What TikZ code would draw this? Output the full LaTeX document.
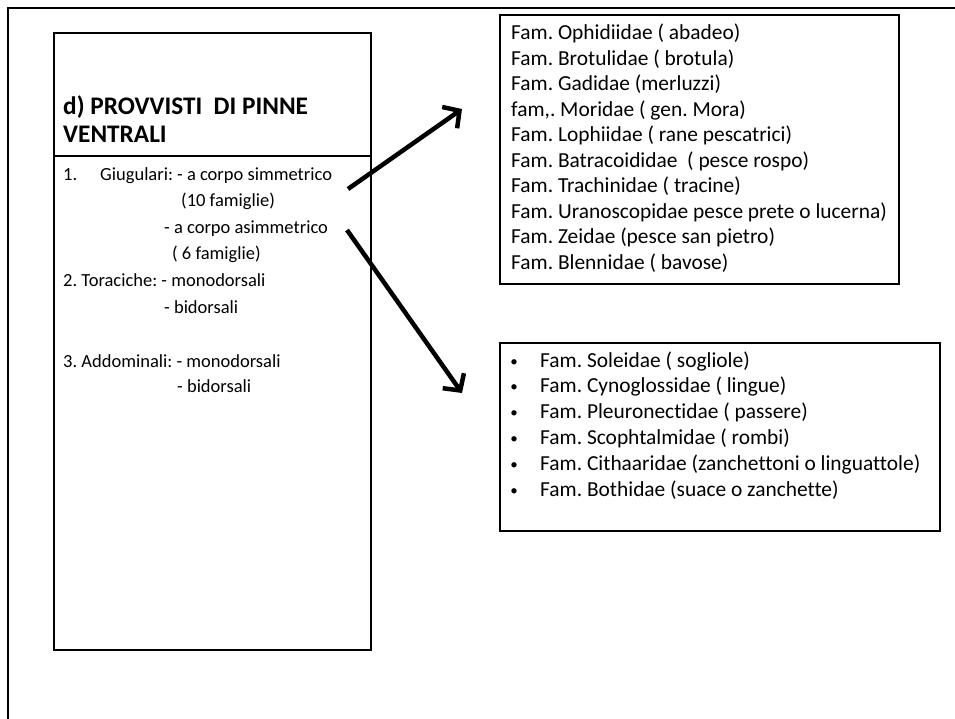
\documentclass[tikz,border=0pt]{standalone}
\usepackage{fontspec}
\setmainfont{Carlito}[Ligatures={NoCommon,NoContextual,NoRare}]
\frenchspacing
\usetikzlibrary{arrows.meta}
\tikzset{
  frame/.style={line width=2pt},
  box/.style={draw, line width=1.6pt},
  txt/.style={anchor=base west, inner sep=0pt, font=\fontsize{18.5}{22}\selectfont},
  ttl/.style={anchor=base west, inner sep=0pt, font=\fontsize{25.3}{30}\selectfont\bfseries},
  fam/.style={anchor=base west, inner sep=0pt, font=\fontsize{21.4}{25}\selectfont},
  dot/.style={anchor=base, inner sep=0pt, font=\fontsize{15}{18}\selectfont},
  arr/.style={line width=4.5pt, -{Straight Barb[length=12pt, width=26pt, line width=4.5pt]}},
}
\begin{document}
\begin{tikzpicture}[x=1pt,y=-1pt]
\useasboundingbox (0,0) rectangle (955,719);
% outer frame
\draw[frame] (8,719) -- (8,8) -- (955,8);
% left box
\draw[box] (54,33) rectangle (371,650);
\draw[box] (54,156) -- (371,156);
\node[ttl] (t1) at (63,115) {d) PROVVISTI\ \ DI PINNE};
\node[ttl] (t2) at (63,143) {VENTRALI};
\node[txt] (l1a) at (63,180.5) {1.};
\node[txt] (l1b) at (100,180.5) {Giugulari: - a corpo simmetrico};
\node[txt] (l2) at (181,207) {(10 famiglie)};
\node[txt] (l3) at (164,233.5) {- a corpo asimmetrico};
\node[txt] (l4) at (172,260) {( 6 famiglie)};
\node[txt] (l5) at (63,287) {2. Toraciche: - monodorsali};
\node[txt] (l6) at (164,313) {- bidorsali};
\node[txt] (l7) at (63,367) {3. Addominali: - monodorsali};
\node[txt] (l8) at (177,392) {- bidorsali};
% top right box
\draw[box] (500,15) rectangle (899,284);
\foreach \t [count=\i from 0] in {Fam. Ophidiidae ( abadeo),Fam. Brotulidae ( brotula),Fam. Gadidae (merluzzi),{fam,. Moridae ( gen. Mora)},Fam. Lophiidae ( rane pescatrici),Fam. Batracoididae\ \ ( pesce rospo),Fam. Trachinidae ( tracine),Fam. Uranoscopidae pesce prete o lucerna),Fam. Zeidae (pesce san pietro),Fam. Blennidae ( bavose)}
  \node[fam] (f\i) at (511,{40+25.45*\i}) {\t};
% bottom right box
\draw[box] (500,343) rectangle (940,531);
\foreach \t [count=\i from 0] in {Fam. Soleidae ( sogliole),Fam. Cynoglossidae ( lingue),Fam. Pleuronectidae ( passere),Fam. Scophtalmidae ( rombi),Fam. Cithaaridae (zanchettoni o linguattole),Fam. Bothidae (suace o zanchette)}{
  \node[fam] (b\i) at (540,{367+25.8*\i}) {\t};
  \node[dot] (d\i) at (514,{366+25.8*\i}) {•};
}
% arrows
\coordinate (a1s) at (348,189);
\coordinate (a1e) at (462,109);
\coordinate (a2s) at (347,230);
\coordinate (a2e) at (462,393);
\draw[arr] (a1s) -- (a1e);
\draw[arr] (a2s) -- (a2e);
\end{tikzpicture}
\end{document}
